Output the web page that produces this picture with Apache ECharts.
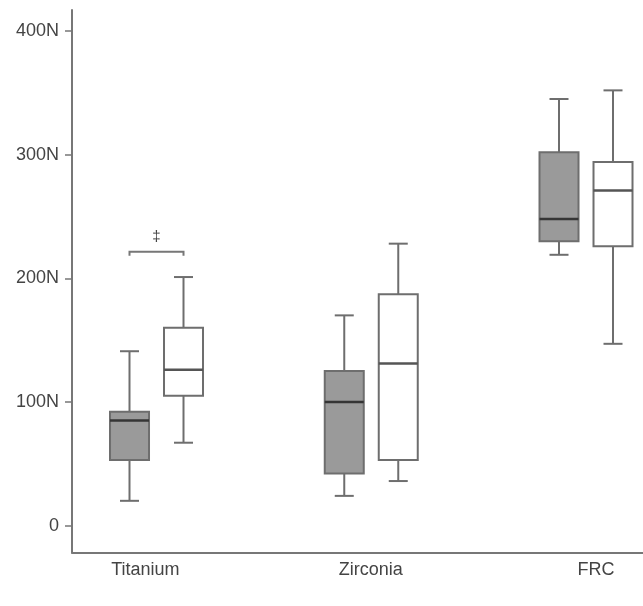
<!DOCTYPE html>
<html>
<head>
<meta charset="utf-8">
<title>Fracture load</title>
<script src="https://cdn.jsdelivr.net/npm/echarts@6/dist/echarts.min.js"></script>
<style>
	html, body { margin: 0; padding: 0; background: #fff; }
	#main { width: 643px; height: 606px; }
</style>
</head>
<body>
<div id="main"></div>
<script>
// categories and box statistics [min, Q1, median, Q3, max]
var categories = ["Titanium", "Zirconia", "FRC"];
var darkStats = [
	[20, 53, 85, 92, 141],
	[24, 42, 100, 125, 170],
	[219, 230, 248, 302, 345]
];
var whiteStats = [
	[67, 105, 126, 160, 201],
	[36, 53, 131, 187, 228],
	[147, 226, 271, 294, 352]
];
var yTicks = [0, 100, 200, 300, 400];
var yTickLabels = ["0", "100N", "200N", "300N", "400N"];
// significance bracket: category index, level
var bracketCat = [0];
var bracketLevel = [221.5];
var bracketMark = ["‡"];

(function() {
	var FONT = "'Liberation Sans', Arial, sans-serif";
	var LINE = "#6e6e6e";
	var HALF_BOX = 19.5;
	var HALF_CAP = 9.5;
	var PAIR_SHIFT = 27;

	var toItems = function(stats) {
		var out = [];
		for (var i = 0; i < stats.length; i++) {
			out.push([i].concat(stats[i]));
		}
		return out;
	}

	//画箱体
	var boxRenderer = function(fill, medColor, shift) {
		return function(params, api) {
			var cx = api.coord([api.value(0), 0])[0] + shift;
			var yMin = api.coord([0, api.value(1)])[1];
			var yQ1 = api.coord([0, api.value(2)])[1];
			var yMed = api.coord([0, api.value(3)])[1];
			var yQ3 = api.coord([0, api.value(4)])[1];
			var yMax = api.coord([0, api.value(5)])[1];
			var ls = { stroke: LINE, lineWidth: 2 };
			return {
				type: "group",
				children: [
					{ type: "line", shape: { x1: cx, y1: yQ3, x2: cx, y2: yMax }, style: ls },
					{ type: "line", shape: { x1: cx, y1: yQ1, x2: cx, y2: yMin }, style: ls },
					{ type: "line", shape: { x1: cx - HALF_CAP, y1: yMax, x2: cx + HALF_CAP, y2: yMax }, style: ls },
					{ type: "line", shape: { x1: cx - HALF_CAP, y1: yMin, x2: cx + HALF_CAP, y2: yMin }, style: ls },
					{ type: "rect", shape: { x: cx - HALF_BOX, y: yQ3, width: HALF_BOX * 2, height: yQ1 - yQ3 },
						style: { fill: fill, stroke: LINE, lineWidth: 2 } },
					{ type: "line", shape: { x1: cx - HALF_BOX, y1: yMed, x2: cx + HALF_BOX, y2: yMed },
						style: { stroke: medColor, lineWidth: 2.5 } }
				]
			};
		}
	}

	var bracketData = [];
	for (var i = 0; i < bracketCat.length; i++) {
		bracketData.push([bracketCat[i], bracketLevel[i], bracketMark[i]]);
	}

	var option = {
		animation: false,
		backgroundColor: "#fff",
		grid: { left: 72, right: 0, top: 10, bottom: 53.5 },
		xAxis: [{
			type: "value",
			position: "bottom",
			min: -0.3935,
			max: 2.2654,
			axisLine: { show: true, onZero: false, lineStyle: { color: "#777", width: 2 } },
			axisTick: { show: false },
			axisLabel: { show: false },
			splitLine: { show: false }
		}, {
			// category names sit on their own scale
			type: "value",
			position: "bottom",
			min: -0.326,
			max: 2.209,
			axisLine: { show: false, onZero: false },
			axisTick: { show: false },
			splitLine: { show: false },
			axisLabel: {
				customValues: [0, 1, 2],
				margin: 9,
				color: "#444",
				fontSize: 18,
				fontFamily: FONT,
				formatter: function(v) { return categories[Math.round(v)]; }
			}
		}],
		yAxis: {
			type: "value",
			min: -21.8,
			max: 417,
			axisLine: { show: true, onZero: false, lineStyle: { color: "#777", width: 2 } },
			axisTick: { show: true, customValues: yTicks, length: 7, lineStyle: { color: "#777", width: 1.5 } },
			axisLabel: {
				customValues: yTicks,
				margin: 13,
				color: "#444",
				fontSize: 18,
				fontFamily: FONT,
				formatter: function(v) { return yTickLabels[yTicks.indexOf(Math.round(v))]; }
			},
			splitLine: { show: false }
		},
		series: [{
			name: "dark",
			type: "custom",
			renderItem: boxRenderer("#9a9a9a", "#353535", -PAIR_SHIFT),
			encode: { x: 0, y: [1, 2, 3, 4, 5] },
			data: toItems(darkStats)
		}, {
			name: "white",
			type: "custom",
			renderItem: boxRenderer("#ffffff", "#555555", PAIR_SHIFT),
			encode: { x: 0, y: [1, 2, 3, 4, 5] },
			data: toItems(whiteStats)
		}, {
			name: "bracket",
			type: "custom",
			renderItem: function(params, api) {
				var p = api.coord([api.value(0), api.value(1)]);
				var l = p[0] - PAIR_SHIFT, r = p[0] + PAIR_SHIFT;
				return {
					type: "group",
					children: [
						{ type: "polyline", shape: { points: [[l, p[1] + 4], [l, p[1]], [r, p[1]], [r, p[1] + 4]] },
							style: { stroke: "#777", lineWidth: 2, fill: null } },
						{ type: "text", x: p[0], y: p[1] - 15,
							style: { text: api.value(2), fill: "#444", font: "15px " + FONT, align: "center", verticalAlign: "middle" } }
					]
				};
			},
			encode: { x: 0, y: 1 },
			data: bracketData
		}]
	};

	var myChart = echarts.init(document.getElementById("main"), null, { renderer: "canvas" });
	myChart.setOption(option);
})();
</script>
</body>
</html>
